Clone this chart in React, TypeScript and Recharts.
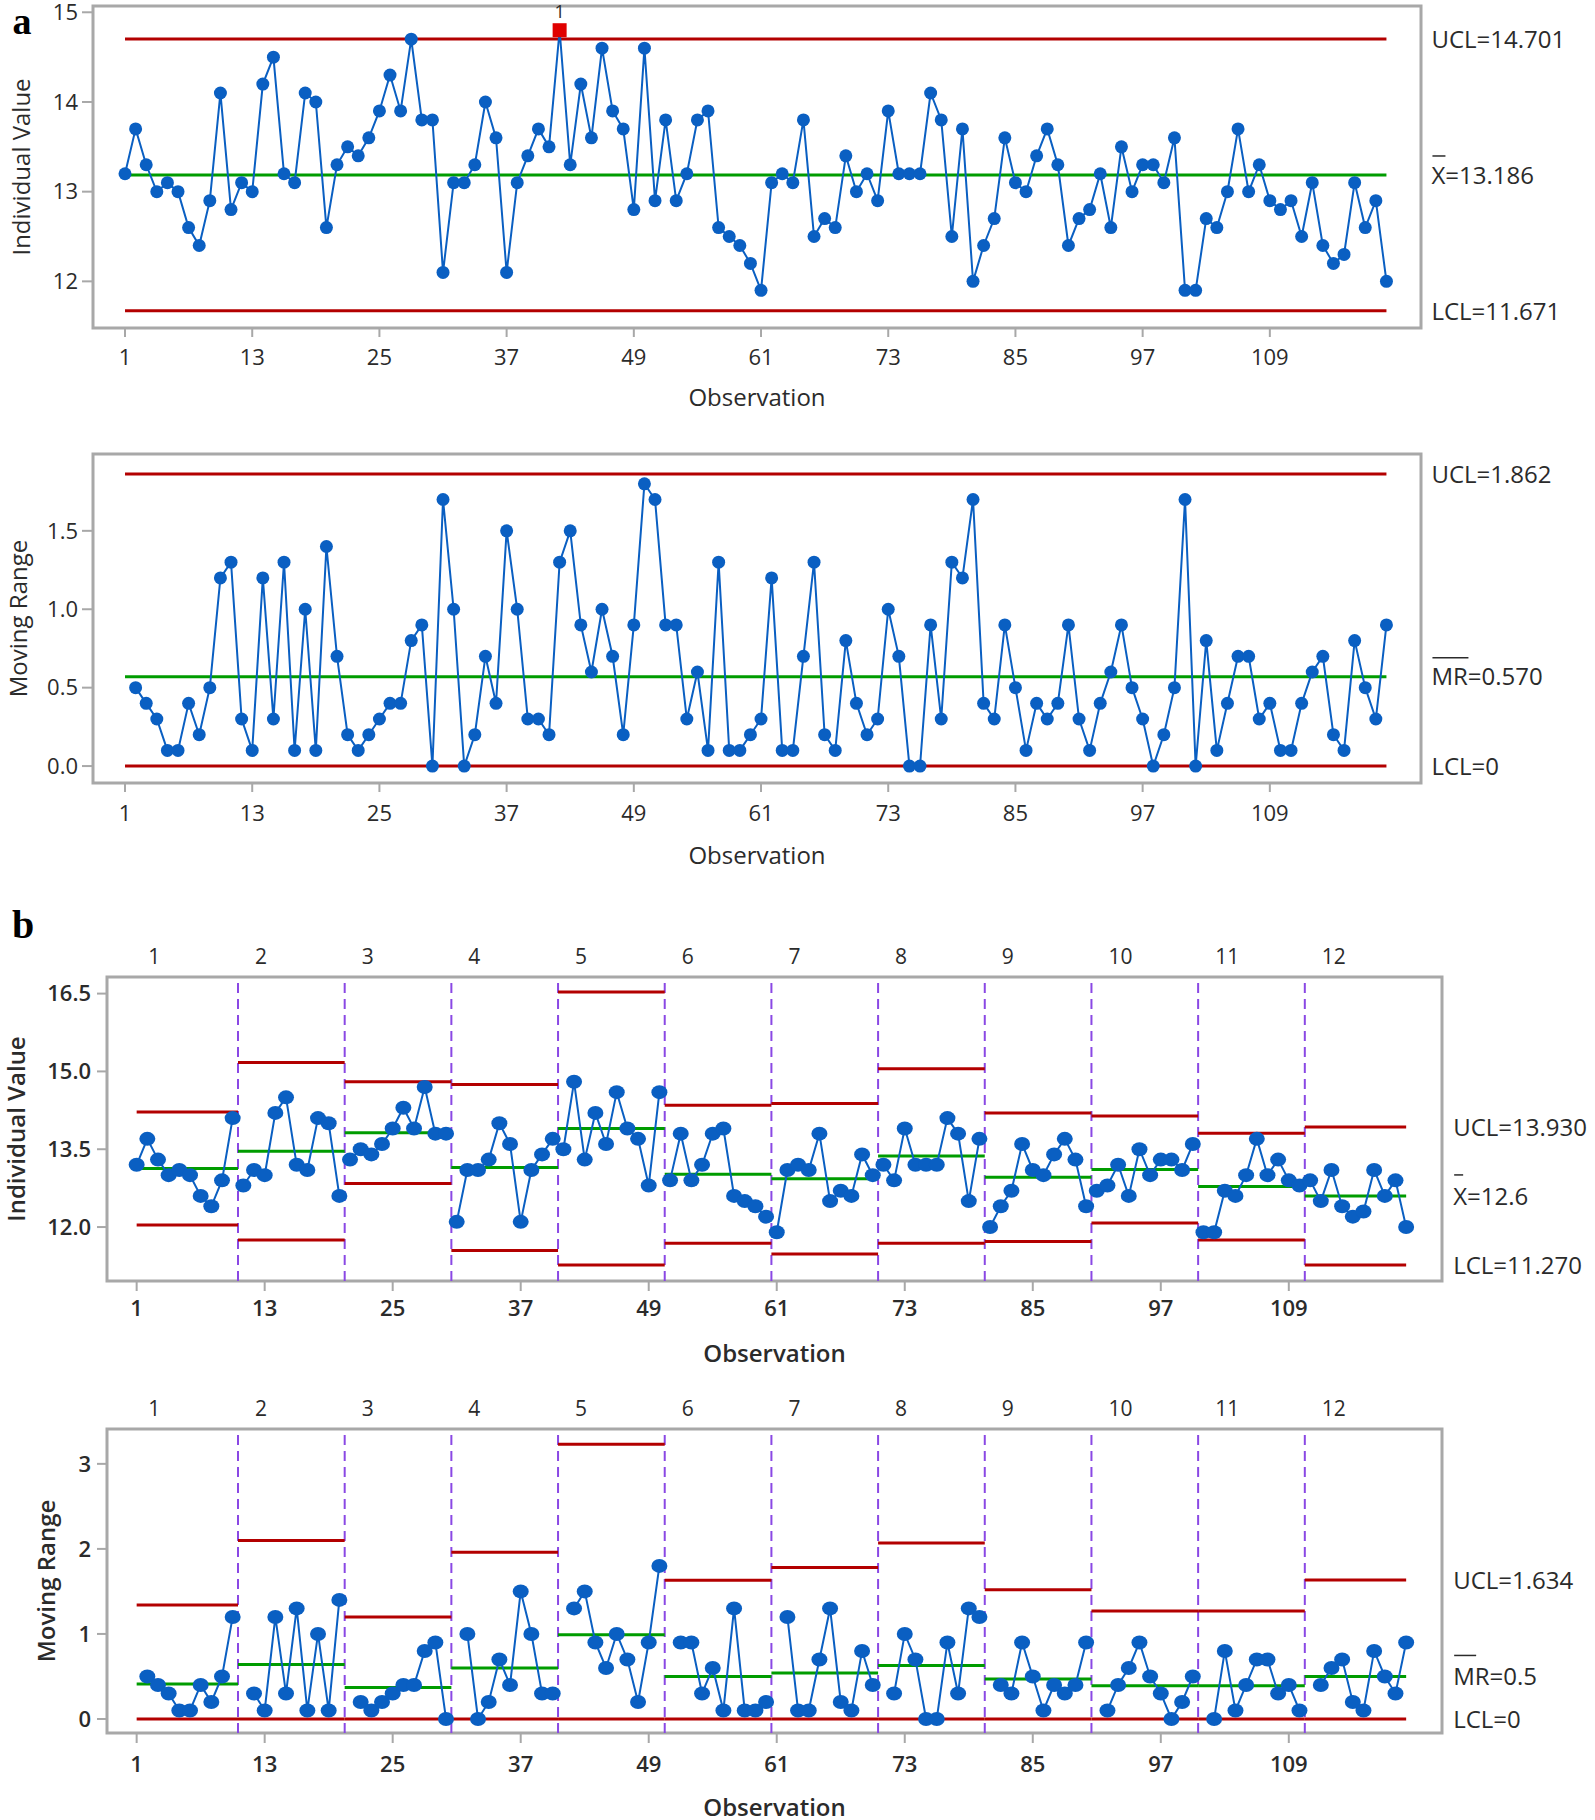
import React from 'react';
import { LineChart, Line, XAxis, YAxis, ReferenceLine, ReferenceArea } from 'recharts';

// individual values, observations 1..120
const individual = [
  13.2, 13.7, 13.3, 13.0, 13.1, 13.0, 12.6, 12.4, 12.9, 14.1,
  12.8, 13.1, 13.0, 14.2, 14.5, 13.2, 13.1, 14.1, 14.0, 12.6,
  13.3, 13.5, 13.4, 13.6, 13.9, 14.3, 13.9, 14.7, 13.8, 13.8,
  12.1, 13.1, 13.1, 13.3, 14.0, 13.6, 12.1, 13.1, 13.4, 13.7,
  13.5, 14.8, 13.3, 14.2, 13.6, 14.6, 13.9, 13.7, 12.8, 14.6,
  12.9, 13.8, 12.9, 13.2, 13.8, 13.9, 12.6, 12.5, 12.4, 12.2,
  11.9, 13.1, 13.2, 13.1, 13.8, 12.5, 12.7, 12.6, 13.4, 13.0,
  13.2, 12.9, 13.9, 13.2, 13.2, 13.2, 14.1, 13.8, 12.5, 13.7,
  12.0, 12.4, 12.7, 13.6, 13.1, 13.0, 13.4, 13.7, 13.3, 12.4,
  12.7, 12.8, 13.2, 12.6, 13.5, 13.0, 13.3, 13.3, 13.1, 13.6,
  11.9, 11.9, 12.7, 12.6, 13.0, 13.7, 13.0, 13.3, 12.9, 12.8,
  12.9, 12.5, 13.1, 12.4, 12.2, 12.3, 13.1, 12.6, 12.9, 12.0,
];

// moving ranges, observations 2..120
const movingRange = [
  0.5, 0.4, 0.3, 0.1, 0.1, 0.4, 0.2, 0.5, 1.2,
  1.3, 0.3, 0.1, 1.2, 0.3, 1.3, 0.1, 1.0, 0.1, 1.4,
  0.7, 0.2, 0.1, 0.2, 0.3, 0.4, 0.4, 0.8, 0.9, 0.0,
  1.7, 1.0, 0.0, 0.2, 0.7, 0.4, 1.5, 1.0, 0.3, 0.3,
  0.2, 1.3, 1.5, 0.9, 0.6, 1.0, 0.7, 0.2, 0.9, 1.8,
  1.7, 0.9, 0.9, 0.3, 0.6, 0.1, 1.3, 0.1, 0.1, 0.2,
  0.3, 1.2, 0.1, 0.1, 0.7, 1.3, 0.2, 0.1, 0.8, 0.4,
  0.2, 0.3, 1.0, 0.7, 0.0, 0.0, 0.9, 0.3, 1.3, 1.2,
  1.7, 0.4, 0.3, 0.9, 0.5, 0.1, 0.4, 0.3, 0.4, 0.9,
  0.3, 0.1, 0.4, 0.6, 0.9, 0.5, 0.3, 0.0, 0.2, 0.5,
  1.7, 0.0, 0.8, 0.1, 0.4, 0.7, 0.7, 0.3, 0.4, 0.1,
  0.1, 0.4, 0.6, 0.7, 0.2, 0.1, 0.8, 0.5, 0.3, 0.9,
];

const obsTicks = [1, 13, 25, 37, 49, 61, 73, 85, 97, 109];
const flaggedObs = [42];

// panel a limits
const iUcl = 14.701;
const iCl = 13.186;
const iLcl = 11.671;
const mrUcl = 1.862;
const mrCl = 0.57;
const mrLcl = 0;

// panel b stages
const stageStart = [1, 11, 21, 31, 41, 51, 61, 71, 81, 91, 101, 111];
const stageUcl = [14.22, 15.17, 14.8, 14.75, 16.53, 14.35, 14.38, 15.05, 14.2, 14.14, 13.81, 13.93];
const stageCl = [13.13, 13.46, 13.82, 13.15, 13.9, 13.02, 12.93, 13.37, 12.96, 13.11, 12.78, 12.6];
const stageLcl = [12.04, 11.75, 12.84, 11.55, 11.27, 11.69, 11.48, 11.69, 11.72, 12.08, 11.75, 11.27];
const stageMrUcl = [1.34, 2.1, 1.2, 1.96, 3.23, 1.63, 1.78, 2.07, 1.52, 1.27, 1.27, 1.634];
const stageMrCl = [0.41, 0.64, 0.37, 0.6, 0.99, 0.5, 0.54, 0.63, 0.47, 0.39, 0.39, 0.5];
const bLabels = ['UCL=13.930', 'X=12.6', 'LCL=11.270'];
const bMrLabels = ['UCL=1.634', 'MR=0.5', 'LCL=0'];

const FONT = '"Open Sans", "Noto Sans", sans-serif';
const BLUE = '#0a5fc2';
const RED = '#b30000';
const GREEN = '#009c00';
const PURPLE = '#8a48e4';
const FRAME = '#a8a8a8';
const TEXT = '#2b2b2b';

const indData = individual.map((v, i) => ({ obs: i + 1, v }));
const mrData = movingRange.map((v, i) => ({ obs: i + 2, v }));
const lastObs = individual.length;
const stageEnd = (k: number) => (k < stageStart.length - 1 ? stageStart[k + 1] - 1 : lastObs);
const segFrom = (k: number) => (k === 0 ? 1 : stageStart[k] - 0.5);
const segTo = (k: number) => (k === stageStart.length - 1 ? lastObs : stageEnd(k) + 0.5);

const limitLabel = (text: string, dx: number, bar = 0, barUp = 19) => (props: any) => {
  const vb = props.viewBox || {};
  const x = (vb.x ?? 0) + (vb.width ?? 0) + dx;
  const y = (vb.y ?? 0) + (vb.height ?? 0) / 2;
  return (
    <g>
      <text x={x} y={y} dy="0.36em" fontSize={24} fontFamily={FONT} fill={TEXT}>{text}</text>
      {bar > 0 && <line x1={x + 1} x2={x + 1 + bar} y1={y - barUp} y2={y - barUp} stroke={TEXT} strokeWidth={1.5} />}
    </g>
  );
};

const stageLabel = (text: string, up: number) => (props: any) => {
  const vb = props.viewBox || {};
  return (
    <text x={(vb.x ?? 0) + 17} y={(vb.y ?? 0) - up} dy="0.36em" fontSize={21} fontFamily={FONT} fill={TEXT}>
      {text}
    </text>
  );
};

const indDot = (p: any) => {
  if (flaggedObs.includes(p.payload?.obs)) {
    return (
      <g key={`f-${p.index}`}>
        <rect x={p.cx - 7} y={p.cy - 7} width={14} height={14} fill="#e00000" />
        <text x={p.cx} y={p.cy - 19} dy="0.36em" textAnchor="middle" fontSize={18} fontFamily={FONT} fill={TEXT}>1</text>
      </g>
    );
  }
  return <circle key={`d-${p.index}`} cx={p.cx} cy={p.cy} r={6.5} fill={BLUE} />;
};
const roundDot = (p: any) => <circle key={`d-${p.index}`} cx={p.cx} cy={p.cy} r={6.5} fill={BLUE} />;
const wideDot = (p: any) => <ellipse key={`e-${p.index}`} cx={p.cx} cy={p.cy} rx={8} ry={7} fill={BLUE} />;

type PanelProps = {
  top: number;
  height: number;
  marginTop: number;
  right: number;
  yAxisWidth: number;
  xAxisHeight: number;
  xDomain: [number, number];
  yDomain: [number, number];
  yTicks: number[];
  digits: number;
  yTitle: string;
  yTitleX: number;
  xTickMargin: number;
  xTickSize: number;
  yTickSize: number;
  yTickMargin: number;
  obsOffset: number;
  weight: number;
  clip: boolean;
  children: React.ReactNode;
};

function Panel(p: PanelProps) {
  const tickStyle = { fill: TEXT, fontSize: 22, fontFamily: FONT, fontWeight: p.weight };
  return (
    <div style={{ position: 'absolute', left: 0, top: p.top }}>
      <LineChart width={1595} height={p.height} margin={{ top: p.marginTop, right: p.right, bottom: 0, left: 0 }}>
        <XAxis
          type="number"
          dataKey="obs"
          domain={p.xDomain}
          ticks={obsTicks}
          interval={0}
          allowDataOverflow={p.clip}
          height={p.xAxisHeight}
          axisLine={false}
          tickLine={{ stroke: FRAME, strokeWidth: 2 }}
          tickSize={p.xTickSize}
          tickMargin={p.xTickMargin}
          tick={tickStyle}
          label={{
            value: 'Observation',
            position: 'insideBottom',
            offset: p.obsOffset,
            fill: TEXT,
            fontSize: 24,
            fontFamily: FONT,
            fontWeight: p.weight,
          }}
        />
        <YAxis
          type="number"
          domain={p.yDomain}
          ticks={p.yTicks}
          interval={0}
          allowDataOverflow={p.clip}
          width={p.yAxisWidth}
          axisLine={false}
          tickLine={{ stroke: FRAME, strokeWidth: 2 }}
          tickSize={p.yTickSize}
          tickMargin={p.yTickMargin}
          tick={tickStyle}
          tickFormatter={(v: number) => v.toFixed(p.digits)}
          label={{
            value: p.yTitle,
            angle: -90,
            position: 'insideLeft',
            offset: p.yTitleX,
            fill: TEXT,
            fontSize: 24,
            fontFamily: FONT,
            fontWeight: p.weight,
            style: { textAnchor: 'middle' },
          }}
        />
        <ReferenceArea
          x1={p.xDomain[0]}
          x2={p.xDomain[1]}
          y1={p.yDomain[0]}
          y2={p.yDomain[1]}
          fill="#ffffff"
          fillOpacity={0}
          stroke={FRAME}
          strokeWidth={3}
          ifOverflow="visible"
        />
        {p.children}
      </LineChart>
    </div>
  );
}

export default function App() {
  const aX: [number, number] = [-2.02, 123.26];
  const bX: [number, number] = [-1.78, 123.36];
  return (
    <div style={{ position: 'absolute', left: 0, top: 0, width: 1595, height: 1820, background: '#fff', overflow: 'hidden' }}>
      <svg width={1595} height={1820} style={{ position: 'absolute', left: 0, top: 0 }}>
        <text x={22} y={34} textAnchor="middle" fontSize={38} fontWeight="bold" fontFamily='"Liberation Serif", serif' fill="#000">a</text>
        <text x={23} y={938} textAnchor="middle" fontSize={40} fontWeight="bold" fontFamily='"Liberation Serif", serif' fill="#000">b</text>
      </svg>

      {/* a: I chart */}
      <Panel top={0} height={420} marginTop={6} right={174} yAxisWidth={93} xAxisHeight={92}
        xDomain={aX} yDomain={[11.48, 15.07]} yTicks={[12, 13, 14, 15]} digits={0}
        yTitle="Individual Value" yTitleX={21} xTickMargin={12} xTickSize={9} yTickSize={11} yTickMargin={4}
        obsOffset={14} weight={400} clip={false}>
        <ReferenceLine segment={[{ x: 1, y: iUcl }, { x: lastObs, y: iUcl }]} stroke={RED} strokeWidth={3} label={limitLabel('UCL=14.701', 45)} />
        <ReferenceLine segment={[{ x: 1, y: iCl }, { x: lastObs, y: iCl }]} stroke={GREEN} strokeWidth={3} label={limitLabel('X=13.186', 45, 13)} />
        <ReferenceLine segment={[{ x: 1, y: iLcl }, { x: lastObs, y: iLcl }]} stroke={RED} strokeWidth={3} label={limitLabel('LCL=11.671', 45)} />
        <Line data={indData} dataKey="v" stroke={BLUE} strokeWidth={2} dot={indDot} activeDot={false} isAnimationActive={false} />
      </Panel>

      {/* a: MR chart */}
      <Panel top={440} height={440} marginTop={14} right={174} yAxisWidth={93} xAxisHeight={97}
        xDomain={aX} yDomain={[-0.108, 1.99]} yTicks={[0, 0.5, 1, 1.5]} digits={1}
        yTitle="Moving Range" yTitleX={18} xTickMargin={13} xTickSize={9} yTickSize={11} yTickMargin={4}
        obsOffset={16} weight={400} clip={true}>
        <ReferenceLine segment={[{ x: 1, y: mrUcl }, { x: lastObs, y: mrUcl }]} stroke={RED} strokeWidth={3} label={limitLabel('UCL=1.862', 45)} />
        <ReferenceLine segment={[{ x: 1, y: mrCl }, { x: lastObs, y: mrCl }]} stroke={GREEN} strokeWidth={3} label={limitLabel('MR=0.570', 45, 36)} />
        <ReferenceLine segment={[{ x: 1, y: mrLcl }, { x: lastObs, y: mrLcl }]} stroke={RED} strokeWidth={3} label={limitLabel('LCL=0', 45)} />
        <Line data={mrData} dataKey="v" stroke={BLUE} strokeWidth={2} dot={roundDot} activeDot={false} isAnimationActive={false} />
      </Panel>

      {/* b: staged I chart */}
      <Panel top={900} height={470} marginTop={77} right={153} yAxisWidth={107} xAxisHeight={89}
        xDomain={bX} yDomain={[10.96, 16.82]} yTicks={[12, 13.5, 15, 16.5]} digits={1}
        yTitle="Individual Value" yTitleX={16} xTickMargin={9} xTickSize={10} yTickSize={10} yTickMargin={6}
        obsOffset={8} weight={600} clip={true}>
        {stageStart.map((s, k) => (
          <ReferenceLine key={`v${k}`} x={s - 0.5} stroke={k === 0 ? 'none' : PURPLE} strokeWidth={2} strokeDasharray="10 6"
            label={stageLabel(String(k + 1), 21)} />
        ))}
        {stageStart.map((s, k) => (
          <ReferenceLine key={`u${k}`} segment={[{ x: segFrom(k), y: stageUcl[k] }, { x: segTo(k), y: stageUcl[k] }]} stroke={RED} strokeWidth={3}
            label={k === stageStart.length - 1 ? limitLabel(bLabels[0], 47) : undefined} />
        ))}
        {stageStart.map((s, k) => (
          <ReferenceLine key={`c${k}`} segment={[{ x: segFrom(k), y: stageCl[k] }, { x: segTo(k), y: stageCl[k] }]} stroke={GREEN} strokeWidth={3}
            label={k === stageStart.length - 1 ? limitLabel(bLabels[1], 47, 9, 21) : undefined} />
        ))}
        {stageStart.map((s, k) => (
          <ReferenceLine key={`l${k}`} segment={[{ x: segFrom(k), y: stageLcl[k] }, { x: segTo(k), y: stageLcl[k] }]} stroke={RED} strokeWidth={3}
            label={k === stageStart.length - 1 ? limitLabel(bLabels[2], 47) : undefined} />
        ))}
        {stageStart.map((s, k) => (
          <Line key={`i${k}`} data={indData.slice(s - 1, stageEnd(k))} dataKey="v" stroke={BLUE} strokeWidth={2}
            dot={wideDot} activeDot={false} isAnimationActive={false} />
        ))}
      </Panel>

      {/* b: staged MR chart */}
      <Panel top={1380} height={440} marginTop={49} right={153} yAxisWidth={107} xAxisHeight={87}
        xDomain={bX} yDomain={[-0.165, 3.41]} yTicks={[0, 1, 2, 3]} digits={0}
        yTitle="Moving Range" yTitleX={46} xTickMargin={13} xTickSize={10} yTickSize={10} yTickMargin={6}
        obsOffset={4} weight={600} clip={true}>
        {stageStart.map((s, k) => (
          <ReferenceLine key={`v${k}`} x={s - 0.5} stroke={k === 0 ? 'none' : PURPLE} strokeWidth={2} strokeDasharray="10 6"
            label={stageLabel(String(k + 1), 21)} />
        ))}
        {stageStart.map((s, k) => (
          <ReferenceLine key={`u${k}`} segment={[{ x: segFrom(k), y: stageMrUcl[k] }, { x: segTo(k), y: stageMrUcl[k] }]} stroke={RED} strokeWidth={3}
            label={k === stageStart.length - 1 ? limitLabel(bMrLabels[0], 47) : undefined} />
        ))}
        {stageStart.map((s, k) => (
          <ReferenceLine key={`c${k}`} segment={[{ x: segFrom(k), y: stageMrCl[k] }, { x: segTo(k), y: stageMrCl[k] }]} stroke={GREEN} strokeWidth={3}
            label={k === stageStart.length - 1 ? limitLabel(bMrLabels[1], 47, 22, 21) : undefined} />
        ))}
        {stageStart.map((s, k) => (
          <ReferenceLine key={`l${k}`} segment={[{ x: segFrom(k), y: 0 }, { x: segTo(k), y: 0 }]} stroke={RED} strokeWidth={3}
            label={k === stageStart.length - 1 ? limitLabel(bMrLabels[2], 47) : undefined} />
        ))}
        {stageStart.map((s, k) => (
          <Line key={`m${k}`} data={mrData.filter((d) => d.obs > s && d.obs <= stageEnd(k))} dataKey="v" stroke={BLUE} strokeWidth={2}
            dot={wideDot} activeDot={false} isAnimationActive={false} />
        ))}
      </Panel>
    </div>
  );
}
